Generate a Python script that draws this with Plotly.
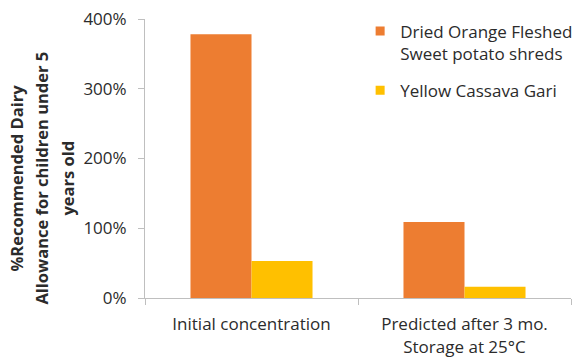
import plotly.graph_objects as go

categories = ["Initial concentration", "Predicted after 3 mo.<br>Storage at 25°C"]
sweet_potato = [3.78, 1.09]
cassava_gari = [0.53, 0.16]
series_names = ["Dried Orange Fleshed<br>Sweet potato shreds", "Yellow Cassava Gari"]
series_colors = ["#ED7D31", "#FFC000"]
y_ticks = [0, 1, 2, 3, 4]
y_title_lines = ["%Recommended Dairy", "Allowance for children under 5", "years old"]

FONT = "Open Sans"
TEXT = "#2b2b2b"
AXIS = "#bfbfbf"

fig = go.Figure()
for vals, name, color, grp in zip([sweet_potato, cassava_gari], series_names, series_colors, ["sp", "cg"]):
    fig.add_trace(go.Bar(x=categories, y=vals, name=name, legendgroup=grp, showlegend=False,
                         marker=dict(color=color, line=dict(width=0))))
    # small square legend key for the series
    fig.add_trace(go.Scatter(x=[None], y=[None], mode="markers", name=name, legendgroup=grp,
                             marker=dict(symbol="square", size=9, color=color)))

fig.update_layout(
    width=576, height=357,
    margin=dict(l=145, r=5, t=19, b=59, autoexpand=False),
    paper_bgcolor="white", plot_bgcolor="white",
    barmode="group", bargap=0.427, bargroupgap=0,
    font=dict(family=FONT, size=17, color=TEXT),
    showlegend=True,
    legend=dict(x=0.505, y=1.02, xanchor="left", yanchor="top",
                font=dict(family=FONT, size=17, color=TEXT),
                bgcolor="rgba(0,0,0,0)", valign="top",
                traceorder="grouped", tracegroupgap=12),
)

# three-line rotated axis title on the left
for line, px in zip(y_title_lines, [17, 42, 68]):
    fig.add_annotation(
        text=f"<b>{line}</b>", xref="paper", yref="paper",
        x=(px - 145) / 426, y=0.428, xanchor="center", yanchor="middle",
        textangle=-90, showarrow=False, align="center",
        font=dict(family=FONT, size=16.5, color=TEXT),
    )

fig.update_xaxes(
    type="category", showline=True, linecolor=AXIS, linewidth=1,
    ticks="outside", tickson="boundaries", ticklen=6, tickcolor=AXIS,
    ticklabelstandoff=11, automargin=False,
    showgrid=False, zeroline=False,
    tickfont=dict(family=FONT, size=17, color=TEXT),
)
fig.update_yaxes(
    range=[0, 4], tickvals=y_ticks, tickformat=".0%",
    showline=True, linecolor=AXIS, linewidth=1,
    ticks="outside", ticklen=6, tickcolor=AXIS, ticklabelstandoff=8,
    automargin=False,
    showgrid=False, zeroline=False,
    tickfont=dict(family=FONT, size=17, color=TEXT),
)

fig.write_html("out.html")
